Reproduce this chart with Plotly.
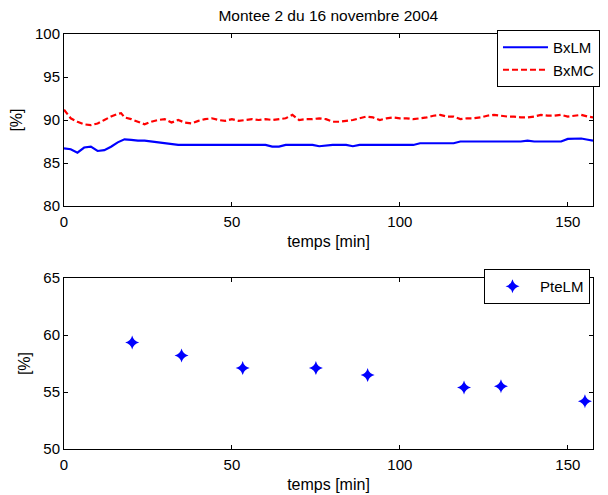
import plotly.graph_objects as go
from plotly.subplots import make_subplots

# ---- data ----
t_min = [0, 2, 4, 6, 8, 10, 12, 14, 16, 17, 18, 20, 22, 24, 26, 28, 30, 32, 34, 36,
         38, 40, 42, 44, 46, 48, 50, 52, 54, 56, 58, 60, 62, 64, 66, 68, 70, 72, 74, 76,
         78, 80, 82, 84, 86, 88, 90, 92, 94, 96, 98, 100, 102, 104, 106, 108, 110, 112, 114, 116,
         118, 120, 122, 124, 126, 128, 130, 132, 134, 136, 138, 140, 142, 144, 146, 148, 150, 152, 154, 156,
         157.5]

bxlm = [86.7, 86.6, 86.2, 86.8, 86.9, 86.4, 86.5, 86.9, 87.4, 87.6, 87.75, 87.7, 87.6, 87.6, 87.5, 87.4, 87.35, 87.2, 87.1, 87.1,
        87.1, 87.1, 87.1, 87.1, 87.1, 87.1, 87.1, 87.1, 87.1, 87.1, 87.1, 87.1, 86.9, 86.9, 87.1, 87.1, 87.1, 87.1, 87.1, 86.95,
        87.05, 87.1, 87.1, 87.1, 86.95, 87.1, 87.1, 87.1, 87.1, 87.1, 87.1, 87.1, 87.1, 87.1, 87.3, 87.3, 87.3, 87.3, 87.3, 87.3,
        87.5, 87.5, 87.5, 87.5, 87.5, 87.5, 87.5, 87.5, 87.5, 87.5, 87.6, 87.5, 87.5, 87.5, 87.5, 87.5, 87.8, 87.85, 87.85, 87.7,
        87.6]

bxmc = [91.2, 90.2, 89.8, 89.5, 89.4, 89.6, 90.0, 90.4, 90.7, 90.8, 90.3, 90.1, 89.8, 89.5, 89.8, 90.0, 90.1, 89.7, 90.0, 89.7,
        89.6, 89.9, 90.1, 90.2, 90.0, 89.9, 90.1, 89.9, 90.0, 90.1, 90.0, 90.1, 90.0, 90.1, 90.2, 90.6, 90.0, 90.1, 90.1, 90.2,
        90.1, 89.8, 89.8, 89.9, 90.0, 90.2, 90.4, 90.3, 90.0, 90.2, 90.3, 90.2, 90.2, 90.1, 90.2, 90.3, 90.5, 90.6, 90.4, 90.4,
        90.1, 90.2, 90.2, 90.3, 90.5, 90.6, 90.5, 90.4, 90.4, 90.3, 90.3, 90.4, 90.6, 90.5, 90.5, 90.6, 90.4, 90.5, 90.6, 90.4,
        90.3]

pte_t = [20.3, 35.0, 53.2, 75.0, 90.4, 119.1, 130.1, 155.1]
ptelm = [59.35, 58.2, 57.1, 57.1, 56.5, 55.4, 55.5, 54.2]

title_text = "Montee 2 du 16 novembre 2004"
x_title = "temps [min]"
y_title = "[%]"
x_ticks = [0, 50, 100, 150]
y_ticks_top = [80, 85, 90, 95, 100]
y_ticks_bot = [50, 55, 60, 65]

FONT = "Liberation Sans, Arial, sans-serif"
FS = 15
FT = 16

fig = make_subplots(rows=2, cols=1)

fig.add_trace(go.Scatter(x=t_min, y=bxlm, mode="lines", name="BxLM",
                         line=dict(color="#0000ff", width=2.2)), row=1, col=1)
fig.add_trace(go.Scatter(x=t_min, y=bxmc, mode="lines", name="BxMC",
                         line=dict(color="#ff0000", width=2.2, dash="6px,3px")), row=1, col=1)
fig.add_trace(go.Scatter(x=pte_t, y=ptelm, mode="markers", name="PteLM", legend="legend2",
                         marker=dict(color="#0000ff", symbol="star-diamond", size=10,
                                     line=dict(width=0))), row=2, col=1)

axis_common = dict(showgrid=False, zeroline=False, showline=True, linecolor="black",
                   linewidth=1, mirror="ticks", ticks="inside", ticklen=4, automargin=False,
                   tickcolor="black", tickfont=dict(family=FONT, size=FS, color="black"))

fig.update_xaxes(range=[0, 157.5], tickvals=x_ticks, **axis_common, ticklabelstandoff=2,
                 title=dict(text=x_title, font=dict(family=FONT, size=FT, color="black"), standoff=6))
fig.update_yaxes(**axis_common,
                 title=dict(text=y_title, font=dict(family=FONT, size=FT, color="black"), standoff=8))
fig.update_yaxes(range=[80, 100], tickvals=y_ticks_top, domain=[0.5855, 1.0], row=1, col=1)
fig.update_yaxes(range=[50, 65], tickvals=y_ticks_bot, domain=[0.0, 0.412], row=2, col=1)

fig.update_layout(
    width=608, height=495,
    margin=dict(l=64, r=15, t=34, b=46, autoexpand=False),
    paper_bgcolor="white", plot_bgcolor="white",
    font=dict(family=FONT, size=FS, color="black"),
    title=dict(text=title_text, x=0.54, xanchor="center", y=1 - 16 / 495, yanchor="middle",
               font=dict(family=FONT, size=15.5, color="black")),
    showlegend=True,
    legend=dict(x=0.8185, y=1.0096, xanchor="left", yanchor="top", bgcolor="white",
                bordercolor="black", borderwidth=1, font=dict(family=FONT, size=FS, color="black"),
                itemwidth=45, tracegroupgap=0),
    legend2=dict(x=0.794, y=0.4337, xanchor="left", yanchor="top", bgcolor="white",
                 bordercolor="black", borderwidth=1, font=dict(family=FONT, size=FS, color="black"),
                 itemwidth=45),
)

fig.write_html("out.html")
